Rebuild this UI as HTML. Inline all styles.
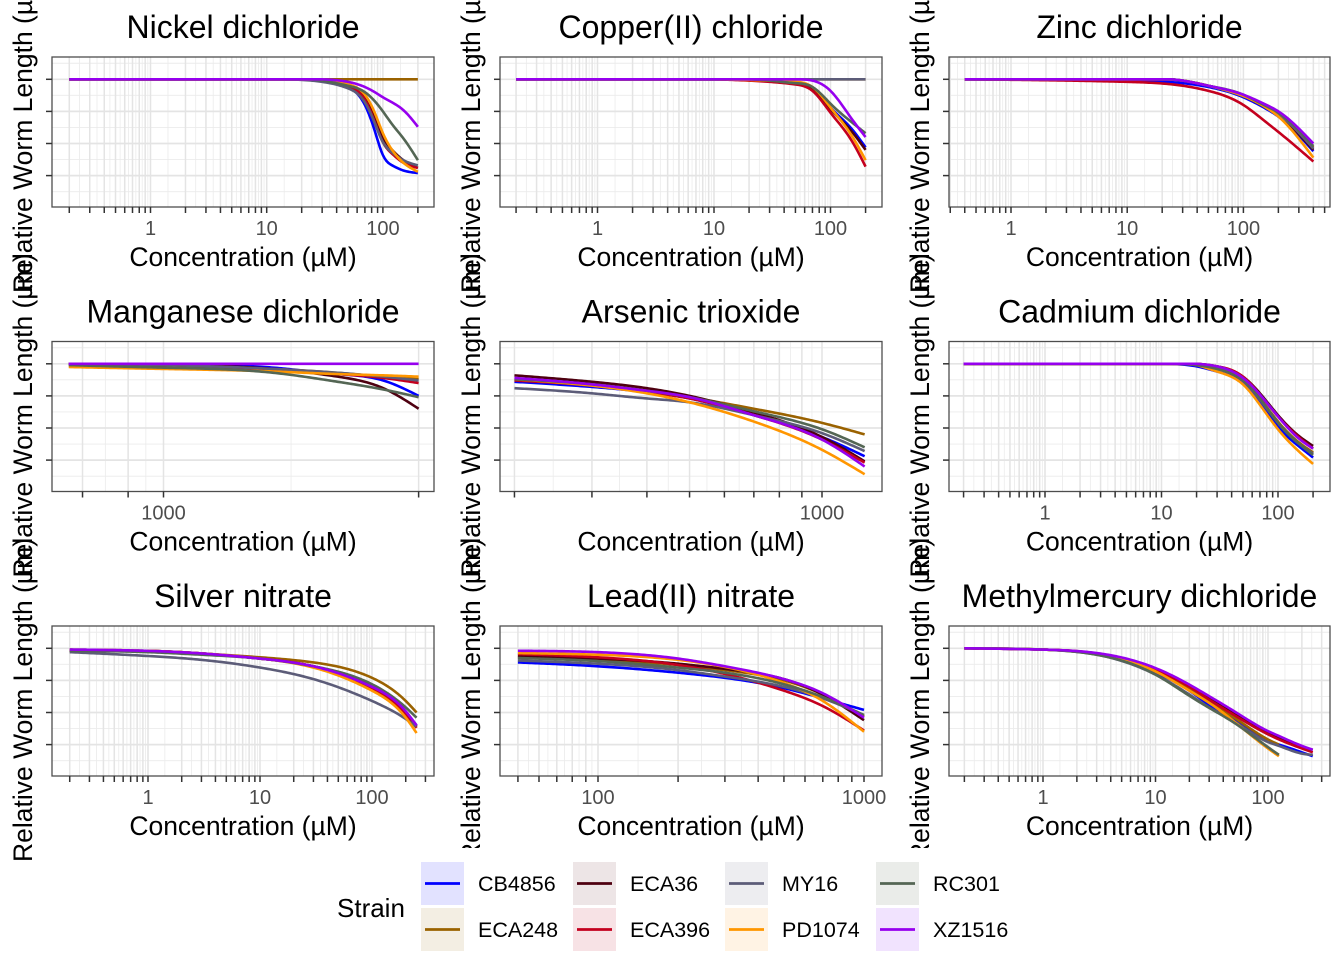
<!DOCTYPE html>
<html><head><meta charset="utf-8">
<style>
html,body{margin:0;padding:0;background:#fff;}
svg{display:block;font-family:"Liberation Sans",Arial,sans-serif;}
</style></head>
<body>
<svg id="chart" width="1344" height="960" viewBox="0 0 1344 960" xmlns="http://www.w3.org/2000/svg"></svg>
<script>
const strains = ["CB4856","ECA248","ECA36","ECA396","MY16","PD1074","RC301","XZ1516"];
const colors = ["#0000ff","#9a6200","#4e0010","#c4001e","#5c5c78","#ff9600","#546654","#9600ee"];
const fills = ["#e2e2ff","#f3eee3","#ede5e6","#f7e2e5","#ededf0","#fff3e4","#eaece9","#f1e3fe"];

const titles = ["Nickel dichloride","Copper(II) chloride","Zinc dichloride","Manganese dichloride","Arsenic trioxide","Cadmium dichloride","Silver nitrate","Lead(II) nitrate","Methylmercury dichloride"];

const concNickel = [0.2,10,30,50,70,85,100,120,150,200];
const valsNickel = [
 [1,1,0.99,0.94,0.8,0.6,0.41,0.33,0.29,0.27],
 [1,1,1,1,1,1,1,1,1,1],
 [1,1,0.99,0.95,0.86,0.7,0.55,0.45,0.37,0.31],
 [1,1,0.99,0.95,0.84,0.67,0.51,0.42,0.35,0.31],
 [1,1,0.98,0.93,0.82,0.66,0.51,0.43,0.37,0.33],
 [1,1,1,0.96,0.88,0.74,0.58,0.45,0.35,0.28],
 [1,1,0.99,0.95,0.9,0.83,0.75,0.65,0.54,0.37],
 [1,1,1,0.98,0.94,0.9,0.86,0.82,0.76,0.63]];

const concCopper = [0.2,10,30,50,70,100,150,200];
const valsCopper = [
 [1,1,0.99,0.97,0.93,0.78,0.62,0.47],
 [1,1,1,1,1,1,1,1],
 [1,1,0.99,0.97,0.93,0.77,0.6,0.45],
 [1,1,0.98,0.96,0.91,0.74,0.53,0.32],
 [1,1,1,1,1,1,1,1],
 [1,1,0.99,0.98,0.94,0.78,0.57,0.37],
 [1,1,0.99,0.97,0.94,0.81,0.67,0.58],
 [1,1,1,1,0.99,0.91,0.7,0.55]];

const concZinc = [0.4,10,30,50,100,150,200,400];
const valsZinc = [
 [1,0.99,0.97,0.94,0.86,0.78,0.71,0.44],
 [1,1,0.99,0.95,0.87,0.8,0.73,0.47],
 [1,1,0.99,0.95,0.87,0.79,0.72,0.45],
 [1,0.98,0.95,0.91,0.8,0.68,0.59,0.36],
 [1,1,0.99,0.95,0.87,0.8,0.73,0.46],
 [1,1,0.99,0.95,0.87,0.79,0.71,0.39],
 [1,1,0.99,0.95,0.88,0.8,0.74,0.48],
 [1,1,0.99,0.95,0.88,0.81,0.75,0.5]];

const concManganese = [550,1000,2000,3000,4000,5000];
const valsManganese = [
 [1,0.99,0.97,0.92,0.87,0.75],
 [1,0.99,0.96,0.93,0.9,0.88],
 [1,0.99,0.96,0.9,0.81,0.65],
 [1,0.99,0.95,0.92,0.89,0.85],
 [1,0.99,0.96,0.93,0.9,0.87],
 [0.975,0.96,0.94,0.92,0.91,0.9],
 [0.99,0.97,0.93,0.86,0.8,0.74],
 [1,1,1,1,1,1]];

const concArsenic = [200,300,400,500,700,1000,1250];
const valsArsenic = [
 [0.86,0.82,0.78,0.73,0.6,0.43,0.28],
 [0.88,0.84,0.79,0.74,0.65,0.54,0.45],
 [0.91,0.86,0.81,0.75,0.62,0.43,0.24],
 [0.87,0.83,0.78,0.73,0.6,0.41,0.23],
 [0.81,0.77,0.73,0.7,0.6,0.46,0.32],
 [0.88,0.83,0.77,0.7,0.55,0.33,0.14],
 [0.88,0.84,0.79,0.74,0.63,0.49,0.35],
 [0.89,0.84,0.79,0.74,0.6,0.41,0.2]];

const concCadmium = [0.2,10,20,30,50,70,100,150,200];
const valsCadmium = [
 [1,1,0.98,0.94,0.85,0.7,0.51,0.36,0.27],
 [1,1,0.99,0.96,0.87,0.73,0.55,0.39,0.31],
 [1,1,1,0.98,0.9,0.77,0.6,0.44,0.36],
 [1,1,1,0.98,0.9,0.76,0.59,0.43,0.34],
 [1,1,0.99,0.96,0.87,0.72,0.54,0.38,0.3],
 [1,1,0.99,0.94,0.84,0.68,0.49,0.32,0.22],
 [1,1,0.99,0.96,0.87,0.73,0.54,0.38,0.29],
 [1,1,1,0.98,0.89,0.76,0.59,0.42,0.34]];

const concSilver = [0.2,1,3,10,30,100,200,250];
const valsSilver = [
 [0.99,0.98,0.96,0.92,0.86,0.7,0.5,0.4],
 [0.98,0.98,0.96,0.93,0.89,0.77,0.59,0.5],
 [0.98,0.98,0.96,0.92,0.86,0.7,0.5,0.39],
 [0.98,0.98,0.96,0.92,0.86,0.69,0.49,0.38],
 [0.97,0.94,0.91,0.85,0.76,0.59,0.45,0.39],
 [0.99,0.98,0.96,0.92,0.85,0.67,0.46,0.34],
 [0.98,0.97,0.95,0.92,0.86,0.72,0.54,0.46],
 [0.99,0.98,0.96,0.92,0.86,0.7,0.51,0.4]];

const concLead = [50,100,200,300,500,700,1000];
const valsLead = [
 [0.89,0.86,0.81,0.77,0.69,0.61,0.52],
 [0.93,0.91,0.87,0.83,0.75,0.64,0.47],
 [0.94,0.92,0.88,0.84,0.76,0.64,0.44],
 [0.955,0.93,0.87,0.8,0.67,0.55,0.36],
 [0.905,0.88,0.83,0.78,0.7,0.61,0.48],
 [0.963,0.95,0.91,0.855,0.73,0.59,0.35],
 [0.924,0.9,0.85,0.81,0.72,0.62,0.48],
 [0.981,0.97,0.92,0.86,0.76,0.65,0.46]];

const concMercury = [0.2,1,3,10,20,30,50,100,125,200,250];
const valsMercury = [
 [1,0.99,0.955,0.81,0.67,0.56,0.45,0.28,0.25,0.19,0.16],
 [1,0.99,0.955,0.82,0.68,0.58,0.46,0.29,0.25,null,null],
 [1,0.99,0.96,0.84,0.71,0.62,0.5,0.34,0.3,0.23,0.21],
 [1,0.99,0.96,0.83,0.7,0.6,0.48,0.33,0.29,0.22,0.19],
 [1,0.99,0.95,0.795,0.64,0.54,0.43,0.27,0.24,0.18,0.17],
 [1,0.99,0.955,0.82,0.67,0.575,0.43,0.22,0.16,null,null],
 [1,0.99,0.95,0.795,0.63,0.536,0.42,0.23,0.17,null,null],
 [1,0.99,0.963,0.846,0.717,0.627,0.51,0.355,0.317,0.24,0.21]];

const yTickValues = [1,0.75,0.5,0.25];
const xTickLabelsNickel = [1,10,100];
const xTickLabelsManganese = [1000];
const xTickLabelsArsenic = [1000];
const xTickLabelsLead = [100,1000];

const NS="http://www.w3.org/2000/svg";
const svg=document.getElementById('chart');
function mk(tag,attrs,parent){const e=document.createElementNS(NS,tag);for(const k in attrs)e.setAttribute(k,attrs[k]);(parent||svg).appendChild(e);return e;}

const colX=[52,500,949];
const colW=[382,382,381];
const rowY=[57,341.5,626];
const PH=150;

const panels=[
 {conc:concNickel,vals:valsNickel,a:1,ax:98.5,D:116.2,labels:xTickLabelsNickel},
 {conc:concCopper,vals:valsCopper,a:1,ax:97.5,D:116.5,labels:xTickLabelsNickel},
 {conc:concZinc,vals:valsZinc,a:1,ax:62,D:116.2,labels:xTickLabelsNickel},
 {conc:concManganese,vals:valsManganese,a:1000,ax:111.5,D:365,labels:xTickLabelsManganese,ticks:[600,800,1000,5000]},
 {conc:concArsenic,vals:valsArsenic,a:1000,ax:322,D:440,labels:xTickLabelsArsenic},
 {conc:concCadmium,vals:valsCadmium,a:1,ax:96,D:116.5,labels:xTickLabelsNickel},
 {conc:concSilver,vals:valsSilver,a:1,ax:96,D:112,labels:xTickLabelsNickel},
 {conc:concLead,vals:valsLead,a:100,ax:98,D:266,labels:xTickLabelsLead},
 {conc:concMercury,vals:valsMercury,a:1,ax:94,D:112.5,labels:xTickLabelsNickel}
];

function splinePath(pts){
 const n=pts.length; if(n<2) return '';
 const x=pts.map(p=>p[0]), y=pts.map(p=>p[1]);
 const h=[];for(let i=0;i<n-1;i++)h.push(x[i+1]-x[i]);
 const M=new Array(n).fill(0);
 if(n>2){
  const a=[],b=[],c=[],d=[];
  for(let i=1;i<n-1;i++){a.push(h[i-1]);b.push(2*(h[i-1]+h[i]));c.push(h[i]);d.push(6*((y[i+1]-y[i])/h[i]-(y[i]-y[i-1])/h[i-1]));}
  const m=b.length;
  for(let i=1;i<m;i++){const w=a[i]/b[i-1];b[i]-=w*c[i-1];d[i]-=w*d[i-1];}
  const sol=new Array(m);sol[m-1]=d[m-1]/b[m-1];
  for(let i=m-2;i>=0;i--)sol[i]=(d[i]-c[i]*sol[i+1])/b[i];
  for(let i=0;i<m;i++)M[i+1]=sol[i];
 }
 let dstr='M'+x[0].toFixed(2)+','+y[0].toFixed(2);
 for(let i=0;i<n-1;i++){
  const lo=Math.min(y[i],y[i+1]),hi=Math.max(y[i],y[i+1]);
  const steps=Math.max(4,Math.ceil(h[i]/2));
  for(let s=1;s<=steps;s++){
   const xx=x[i]+h[i]*s/steps;
   const A=(x[i+1]-xx)/h[i],B=(xx-x[i])/h[i];
   let yy=A*y[i]+B*y[i+1]+((A*A*A-A)*M[i]+(B*B*B-B)*M[i+1])*h[i]*h[i]/6;
   yy=Math.min(hi,Math.max(lo,yy));
   dstr+=' L'+xx.toFixed(2)+','+yy.toFixed(2);
  }
 }
 return dstr;
}

panels.forEach((p,idx)=>{
 const col=idx%3,row=Math.floor(idx/3);
 const L=colX[col],W=colW[col],T=rowY[row];
 const xs=c=>L+p.ax+p.D*Math.log10(c/p.a);
 const ys=v=>T+22.3+(1-v)*128.4;
 const g=mk('g',{});
 
 
 mk('rect',{x:L,y:T,width:W,height:PH,fill:'#fff'},g);
 let ticks=p.ticks;
 if(!ticks){ticks=[];for(let e=-2;e<=4;e++)for(let k=1;k<=9;k++){const c=k*Math.pow(10,e);const px=xs(c);if(px>L+1&&px<L+W-1)ticks.push(c);}}
 ticks.sort((a,b)=>a-b);
 const grid=mk('g',{},g);
 
 
 for(let i=0;i<ticks.length-1;i++){const px=xs(Math.sqrt(ticks[i]*ticks[i+1]));mk('line',{x1:px,x2:px,y1:T,y2:T+PH,stroke:'#ebebeb','stroke-width':0.8},grid);}
 [1.125,0.875,0.625,0.375,0.125].forEach(v=>{const py=ys(v);if(py>T&&py<T+PH)mk('line',{x1:L,x2:L+W,y1:py,y2:py,stroke:'#ebebeb','stroke-width':0.9},grid);});
 ticks.forEach(c=>{const px=xs(c);mk('line',{x1:px,x2:px,y1:T,y2:T+PH,stroke:'#e4e4e4','stroke-width':1.5},grid);});
 yTickValues.forEach(v=>{const py=ys(v);mk('line',{x1:L,x2:L+W,y1:py,y2:py,stroke:'#e4e4e4','stroke-width':1.7},grid);});
 strains.forEach((s,si)=>{
  const pts=[];
  p.conc.forEach((c,ci)=>{const v=p.vals[si][ci];if(v!==null&&v!==undefined)pts.push([xs(c),ys(v)]);});
  const path=mk('path',{d:splinePath(pts),fill:'none',stroke:colors[si],'stroke-width':2.6,'stroke-linejoin':'round'},g);
  
  
 });
 mk('rect',{x:L,y:T,width:W,height:PH,fill:'none',stroke:'#4d4d4d','stroke-width':1.3},g);
 ticks.forEach(c=>{const px=xs(c);mk('line',{x1:px,x2:px,y1:T+PH,y2:T+PH+6,stroke:'#333','stroke-width':1.5},g);});
 yTickValues.forEach(v=>{const py=ys(v);mk('line',{x1:L-6,x2:L,y1:py,y2:py,stroke:'#333','stroke-width':1.5},g);});
 p.labels.forEach(c=>{
  const t=mk('text',{x:xs(c),y:T+PH+28,'text-anchor':'middle','font-size':'20px',fill:'#4d4d4d'},g);
  t.textContent=String(c);
  
  
 });
 const tt=mk('text',{x:L+W/2,y:T-19,'text-anchor':'middle','font-size':'32px',fill:'#000'},g);
 tt.textContent=titles[idx];
 
 
 const xt=mk('text',{x:L+W/2,y:T+PH+59,'text-anchor':'middle','font-size':'26.5px',fill:'#000'},g);
 xt.textContent='Concentration (µM)';
 
 
 const cx=L-29, bottom=T+PH+86;
 const yt=mk('text',{x:cx,y:bottom,'text-anchor':'start','font-size':'26.5px',fill:'#000',transform:'rotate(-90 '+cx+' '+bottom+') translate(0 9)'},g);
 yt.textContent='Relative Worm Length (µm)';
 
 
});

const lg=mk('g',{});


mk('rect',{x:322,y:848,width:700,height:112,fill:'#fff'},lg);
const lt=mk('text',{x:337,y:917,'font-size':'26px',fill:'#000'},lg);
lt.textContent='Strain';


const legCols=[421,573,725,876];
strains.forEach((s,i)=>{
 const c=Math.floor(i/2),r=i%2;
 const x=legCols[c],y=862+r*46;
 const e=mk('g',{},lg);
 
 
 mk('rect',{x:x,y:y,width:43,height:43,fill:fills[i]},e);
 mk('line',{x1:x+4,x2:x+39,y1:y+21.5,y2:y+21.5,stroke:colors[i],'stroke-width':2.8},e);
 const t=mk('text',{x:x+57,y:y+29,'font-size':'21.5px',fill:'#000'},e);
 t.textContent=s;
});
</script>
</body></html>
